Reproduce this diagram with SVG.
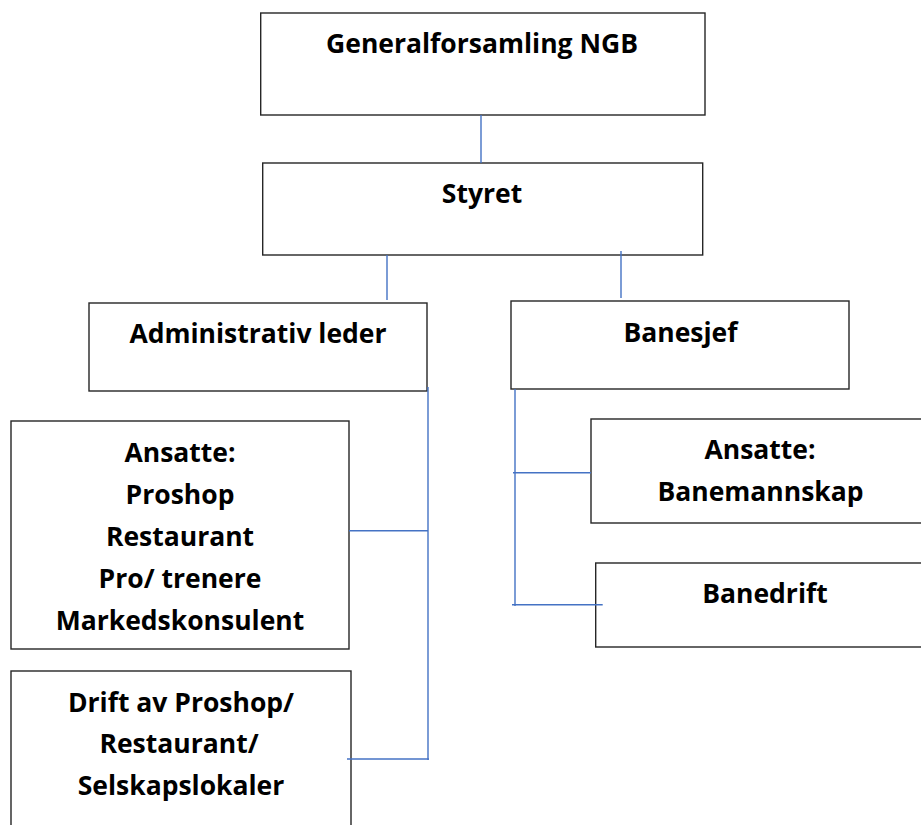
<svg xmlns="http://www.w3.org/2000/svg" width="921" height="825" viewBox="0 0 921 825">
<style>
.box{fill:#fff;stroke:#262626;stroke-width:1.4}
.t{font-family:"Open Sans",Lato,"Liberation Sans",sans-serif;font-weight:bold;font-size:26.5px;fill:#000;text-anchor:middle}
.c{stroke:#4472C4;stroke-width:1.4;fill:none}
</style>
<rect width="921" height="825" fill="#fff"/>
<g id="n-general"><rect class="box" x="260.7" y="13" width="444.3" height="102"/><text class="t" x="482" y="53">Generalforsamling NGB</text></g>
<g id="n-styret"><rect class="box" x="262.7" y="163" width="440" height="92"/><text class="t" x="482" y="203">Styret</text></g>
<g id="n-admin"><rect class="box" x="89" y="303" width="338" height="88"/><text class="t" x="258" y="343">Administrativ leder</text></g>
<g id="n-banesjef"><rect class="box" x="511" y="301" width="338" height="88"/><text class="t" x="680.5" y="342">Banesjef</text></g>
<g id="n-ansatte-adm"><rect class="box" x="11" y="421" width="338" height="228"/><text class="t" x="180" y="462">Ansatte:</text><text class="t" x="180" y="504">Proshop</text><text class="t" x="180" y="546">Restaurant</text><text class="t" x="180" y="588">Pro/ trenere</text><text class="t" x="180" y="630">Markedskonsulent</text></g>
<g id="n-drift"><rect class="box" x="11" y="671" width="340" height="170"/><text class="t" x="181" y="712">Drift av Proshop/</text><text class="t" x="179" y="753">Restaurant/</text><text class="t" x="181" y="795">Selskapslokaler</text></g>
<g id="n-ansatte-bane"><rect class="box" x="591" y="419" width="345" height="104"/><text class="t" x="760" y="459">Ansatte:</text><text class="t" x="760.5" y="501">Banemannskap</text></g>
<g id="n-banedrift"><rect class="box" x="595.7" y="563" width="345" height="84"/><text class="t" x="765" y="603">Banedrift</text></g>
<g id="connectors">
<line class="c" x1="481" y1="115" x2="481" y2="163"/>
<line class="c" x1="387" y1="255" x2="387" y2="300"/>
<line class="c" x1="621" y1="251" x2="621" y2="298"/>
<line class="c" x1="428" y1="387" x2="428" y2="760"/>
<line class="c" x1="349" y1="530.7" x2="428" y2="530.7"/>
<line class="c" x1="347" y1="759" x2="429" y2="759"/>
<line class="c" x1="515" y1="389" x2="515" y2="606"/>
<line class="c" x1="513" y1="472.7" x2="591" y2="472.7"/>
<line class="c" x1="512" y1="604.7" x2="602.7" y2="604.7"/>
</g>
</svg>
